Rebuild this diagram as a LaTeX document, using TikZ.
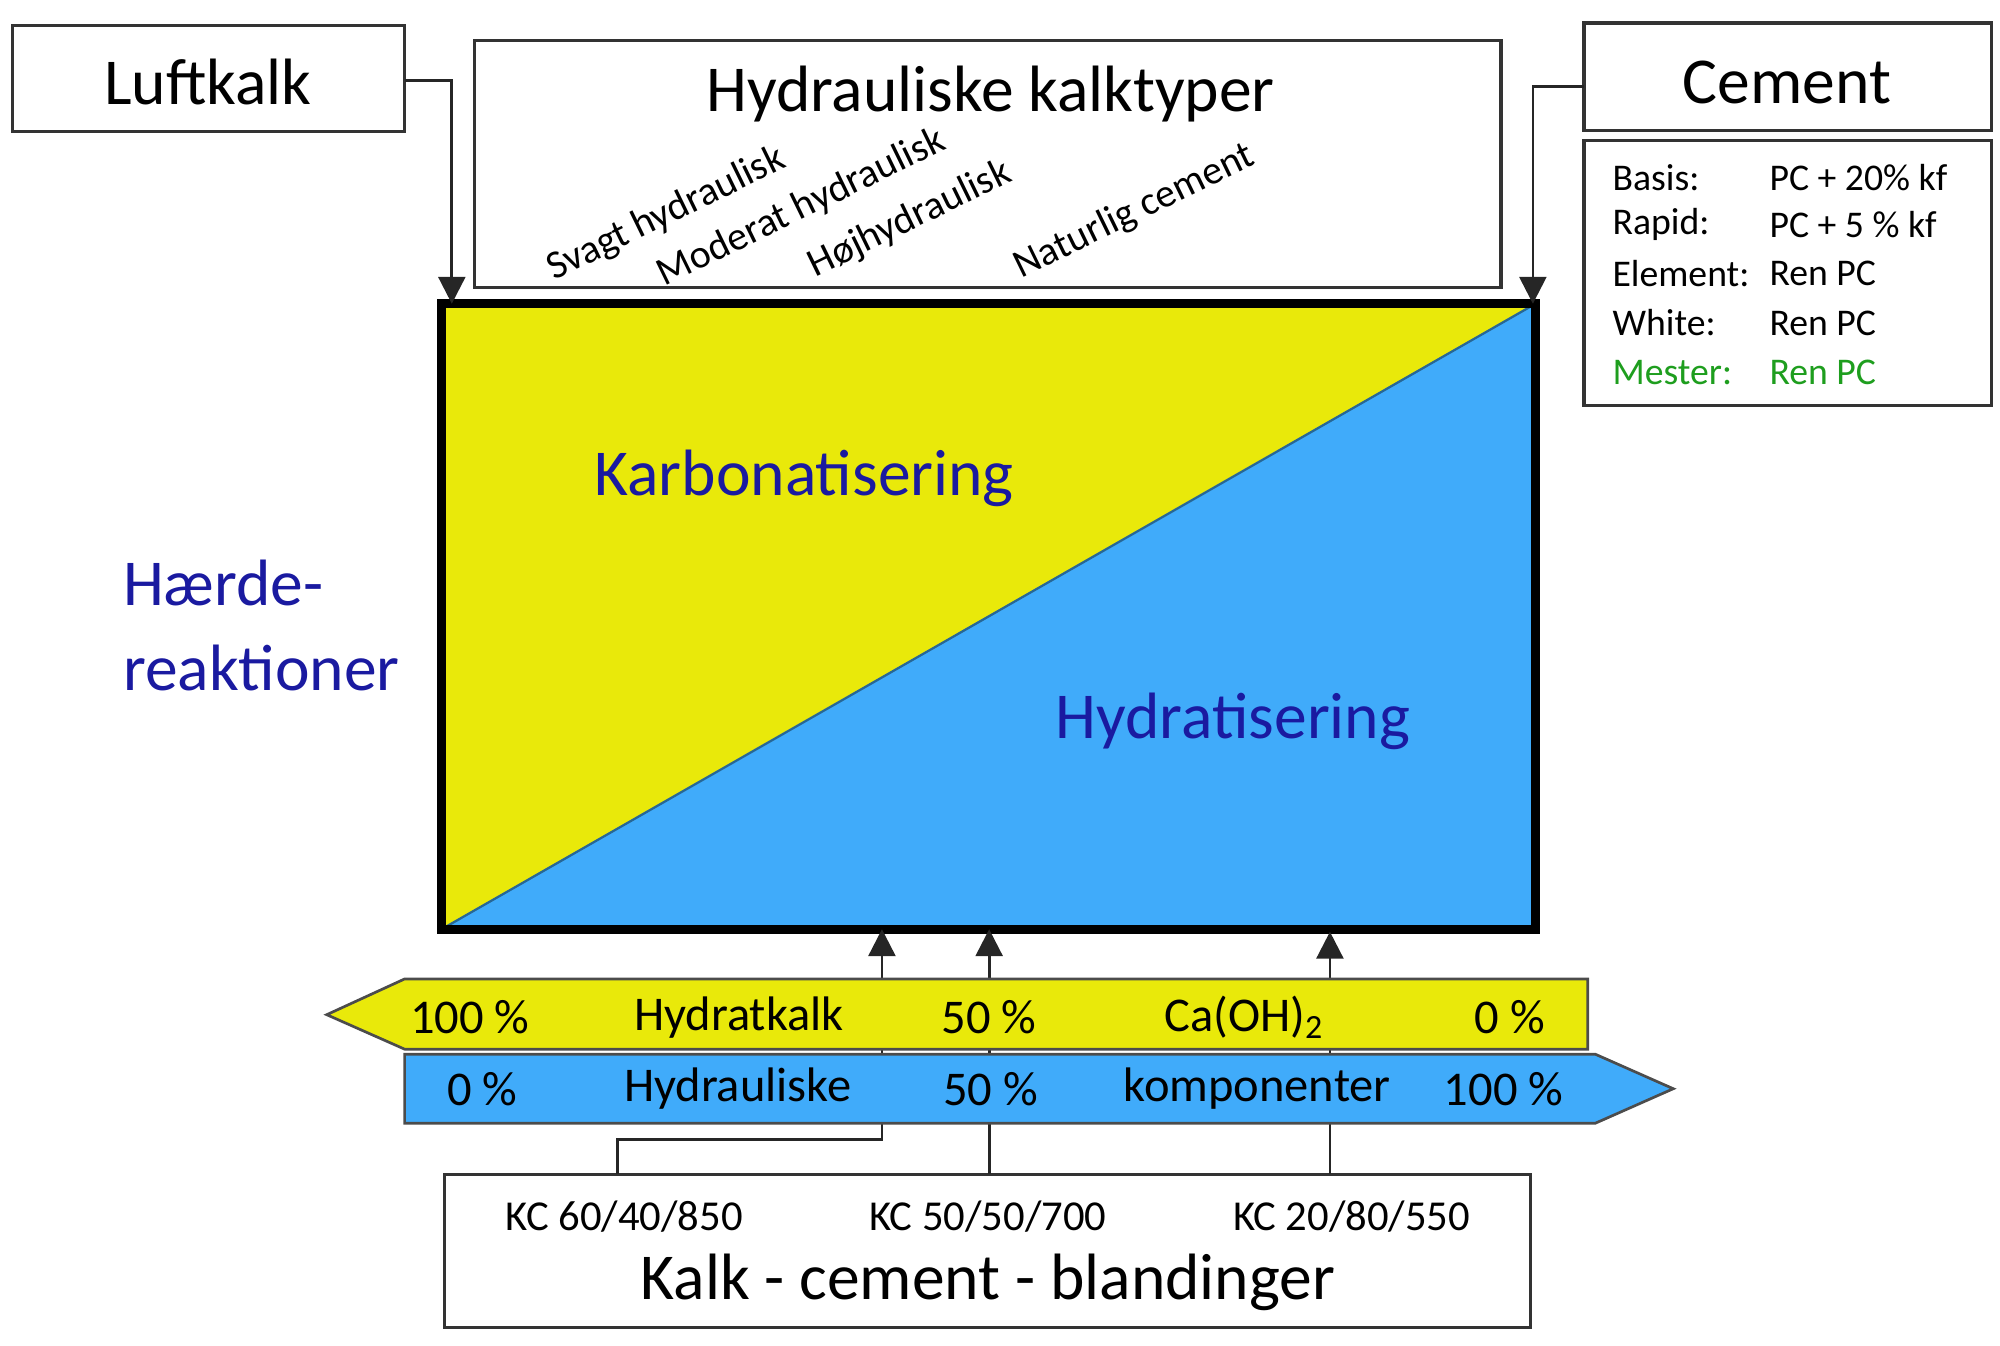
\documentclass[tikz,border=0pt]{standalone}
\usepackage{fontspec}
\setmainfont{Carlito}
\usetikzlibrary{arrows.meta}
\definecolor{yel}{HTML}{E9E90A}
\definecolor{blu}{HTML}{40ABFA}
\definecolor{dblue}{HTML}{1A1AA0}
\definecolor{grn}{HTML}{1E9E1E}
\begin{document}
\begin{tikzpicture}[x=0.01cm,y=-0.01cm,
  box/.style={draw=black!80,line width=0.7pt,fill=white},
  conn/.style={draw=black!85,line width=0.6pt},
  arr/.style={conn,-{Triangle[length=6pt,width=6pt]}},
  big/.style={font=\fontsize{14.6}{17}\selectfont},
  bar/.style={font=\fontsize{10.8}{12}\selectfont},
  rot/.style={font=\fontsize{8.9}{10}\selectfont,rotate=26},
  info/.style={font=\fontsize{8.4}{10}\selectfont,anchor=west}]
\useasboundingbox (0,0) rectangle (1567,1054);
% boxes
\draw[box] (10,20) rectangle (317,103);
\node[big] (luft) at (163,64) {Luftkalk};
\coordinate (luftE) at (317,63);
\draw[box] (372,32) rectangle (1176,225);
\node[big] (hyd) at (776,74) {Hydrauliske kalktyper};
\node[rot] (s1) at (522,168) {Svagt hydraulisk};
\node[rot] (s2) at (628,163) {Moderat hydraulisk};
\node[rot] (s3) at (713,172) {Højhydraulisk};
\node[rot] (s4) at (889,166) {Naturlig cement};
\draw[box] (1241,18) rectangle (1560,102);
\node[big] (cem) at (1400,65) {Cement};
\coordinate (cemW) at (1241,68);
\draw[box] (1241,110) rectangle (1560,318);
\foreach \y/\a/\b/\c in {139/Basis:/PC + 20\% kf/black,176/Rapid:/PC + 5 \% kf/black,214/Element:/Ren PC/black,253/White:/Ren PC/black,292/Mester:/Ren PC/grn}{
  \node[info,text=\c] at (1251,\y) {\a};
  \node[info,text=\c] at (1374,\y) {\b};}
% main rectangle
\fill[blu] (346,238) rectangle (1203,728);
\fill[yel] (346,238) -- (1203,238) -- (346,728) -- cycle;
\draw[black!40!blu,line width=0.5pt] (346,728) -- (1203,238);
\draw[line width=2pt] (346,238) rectangle (1203,728);
\coordinate (mTL) at (354,238);
\coordinate (mTR) at (1201,238);
\node[big,text=dblue] (karb) at (630,375) {Karbonatisering};
\node[big,text=dblue] (hydr) at (966,565) {Hydratisering};
\node[big,text=dblue,align=left,anchor=west] (haerde) at (84,490) {Hærde-\\[2pt]reaktioner};
% top connectors
\draw[arr] (luftE) -- (354,63) -- (mTL);
\draw[arr] (cemW) -- (1201,68) -- (mTR);
% bottom box
\draw[box] (348,920) rectangle (1199,1040);
\coordinate (b1) at (484,920);
\coordinate (b2) at (775,920);
\coordinate (b3) at (1042,920);
\draw[arr] (b1) -- (484,893) -- (691,893) -- (691,728);
\draw[arr] (b2) -- (775,728);
\draw[arr] (b3) -- (1042,730);
\node[font=\fontsize{9.5}{11}\selectfont] (k1) at (489,953) {KC 60/40/850};
\node[font=\fontsize{9.5}{11}\selectfont] (k2) at (774,953) {KC 50/50/700};
\node[font=\fontsize{9.5}{11}\selectfont] (k3) at (1059,953) {KC 20/80/550};
\node[big] (kcb) at (774,1005) {Kalk - cement - blandinger};
% bars
\draw[fill=yel,draw=black!70,line width=0.6pt] (256,795) -- (317,767) -- (1244,767) -- (1244,822) -- (317,822) -- cycle;
\draw[fill=blu,draw=black!70,line width=0.6pt] (317,826) -- (1250,826) -- (1311,853) -- (1250,880) -- (317,880) -- cycle;
\foreach \x/\t in {368/100 \%,579/Hydratkalk,775/50 \%,975/{Ca(OH)\textsubscript{2}},1183/0 \%}
  \node[bar] at (\x,797) {\t};
\foreach \x/\t in {378/0 \%,578/Hydrauliske,776/50 \%,985/komponenter,1178/100 \%}
  \node[bar] at (\x,853) {\t};
\end{tikzpicture}
\end{document}
